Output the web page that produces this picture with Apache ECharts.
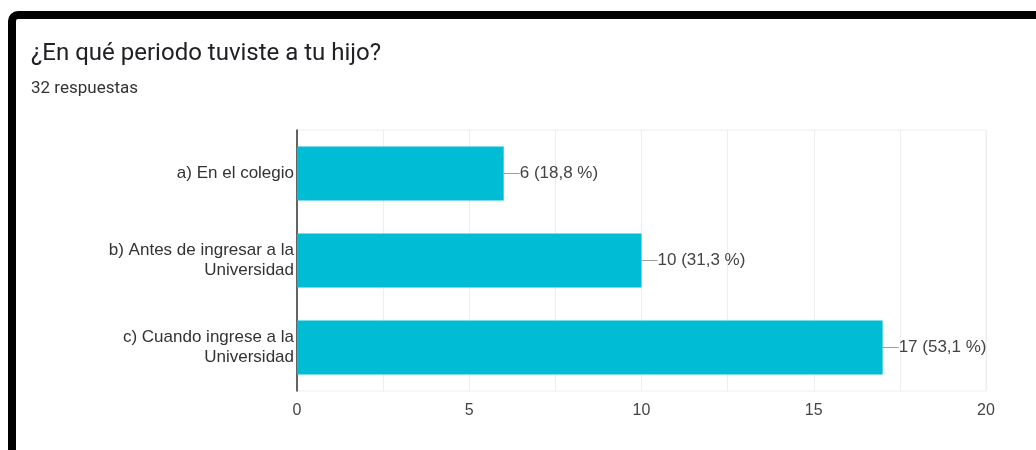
<!DOCTYPE html>
<html>
<head>
<meta charset="utf-8">
<script src="https://cdn.jsdelivr.net/npm/echarts@6/dist/echarts.min.js"></script>
<style>
html,body{margin:0;padding:0;background:#fff;}
#c{width:1036px;height:450px;}
</style>
</head>
<body>
<div id="c"></div>
<script>
const titleText = '¿En qué periodo tuviste a tu hijo?';
const subtitleText = '32 respuestas';
const totalResponses = 32;
const categories = ['a) En el colegio', 'b) Antes de ingresar a la\nUniversidad', 'c) Cuando ingrese a la\nUniversidad'];
const values = [6, 10, 17];
const xTicks = [0, 5, 10, 15, 20];

const chart = echarts.init(document.getElementById('c'), null, {renderer: 'canvas'});

function pctLabel(v) {
  return v + ' (' + (v / totalResponses * 100).toFixed(1).replace('.', ',') + ' %)';
}

chart.setOption({
  backgroundColor: '#ffffff',
  animation: false,
  title: [
    {text: titleText, left: 31, top: 42, padding: 0, textStyle: {fontFamily: 'Roboto', fontSize: 24, fontWeight: 'normal', color: '#202124'}},
    {text: subtitleText, left: 31, top: 80, padding: 0, textStyle: {fontFamily: 'Roboto', fontSize: 17, fontWeight: 'normal', color: '#333333'}}
  ],
  graphic: [
    {type: 'rect', shape: {x: 12, y: 15, width: 1100, height: 500, r: 6}, style: {fill: 'none', stroke: '#000', lineWidth: 8}, z: 100}
  ],
  grid: {left: 297, right: 50, top: 130, bottom: 59, show: true, borderColor: '#eeeeee', borderWidth: 1, containLabel: false},
  xAxis: {
    type: 'value', min: xTicks[0], max: xTicks[xTicks.length - 1], interval: 5,
    axisLine: {show: false}, axisTick: {show: false},
    axisLabel: {fontFamily: 'Liberation Sans', fontSize: 16, color: '#444', margin: 12},
    splitLine: {show: true, lineStyle: {color: '#eeeeee', width: 1}},
    minorTick: {show: false, splitNumber: 2},
    minorSplitLine: {show: true, lineStyle: {color: '#eeeeee', width: 1}}
  },
  yAxis: {
    type: 'category', data: categories, inverse: true,
    axisLine: {show: true, lineStyle: {color: '#333', width: 1.5}},
    axisTick: {show: false},
    axisLabel: {fontFamily: 'Liberation Sans', fontSize: 17, color: '#333', margin: 3, align: 'right', lineHeight: 20}
  },
  series: [{
    type: 'bar', data: values, barWidth: 54,
    itemStyle: {color: '#00bcd4'},
    label: {
      show: true, position: 'right', distance: 0,
      formatter: p => '{ln|}{v|' + pctLabel(p.value) + '}',
      rich: {
        ln: {width: 16, height: 1, backgroundColor: '#9e9e9e'},
        v: {fontFamily: 'Liberation Sans', fontSize: 17, color: '#444'}
      }
    }
  }]
});
</script>
</body>
</html>
